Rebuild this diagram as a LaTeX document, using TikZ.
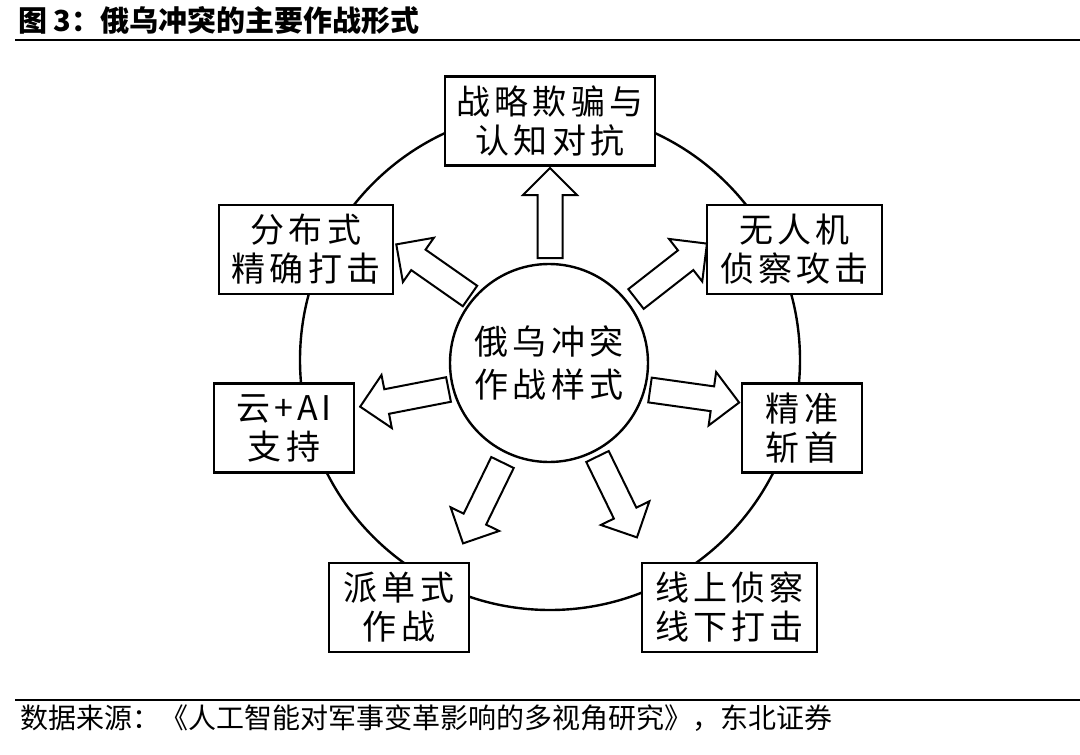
\documentclass[tikz,border=0pt]{standalone}
\usepackage{fontspec}
\setmainfont{Noto Sans CJK SC}
\newfontfamily\boxfont{Noto Sans CJK SC}[LetterSpace=12]
\begin{document}
\begin{tikzpicture}[x=1pt, y=-1pt,
    form/.style={rectangle, draw, line width=2.4pt, fill=white, minimum height=89pt, inner sep=0pt, align=center, font=\boxfont\fontsize{34}{39}\selectfont},
    hub/.style={circle, draw, line width=2.4pt, minimum size=198pt, inner sep=0pt, align=center, font=\boxfont\fontsize{34}{43}\selectfont},
    flow/.pic={\draw[line width=2pt, fill=white] (0,-12.5) -- (63,-12.5) -- (63,-27) -- (90,0) -- (63,27) -- (63,12.5) -- (0,12.5) -- cycle;},
    rule/.style={line width=2.4pt}
]
    \useasboundingbox (0,0) rectangle (1080,755);
    \node[anchor=west, inner sep=0pt, font=\bfseries\fontsize{29}{29}\selectfont] (title) at (18,20) {图\ 3：俄乌冲突的主要作战形式};
    \draw[rule] (15,40) -- (1080,40);

    \node[circle, draw, line width=2.4pt, minimum size=500pt] (ring) at (550,360) {};
    \node[hub] (hub) at (549,363) {俄乌冲突\\作战样式};

    \node[form, minimum width=210pt] (deceive) at (550,121) {战略欺骗与\\认知对抗};
    \node[form, minimum width=175pt] (drone) at (794.5,249.5) {无人机\\侦察攻击};
    \node[form, minimum width=120pt] (strike) at (802,428) {精准\\斩首};
    \node[form, minimum width=175pt] (online) at (729.5,607.5) {线上侦察\\线下打击};
    \node[form, minimum width=140pt] (order) at (399,607.5) {派单式\\作战};
    \node[form, minimum width=140pt] (cloud) at (284,428) {云+AI\\支持};
    \node[form, minimum width=174pt] (distrib) at (306,249.5) {分布式\\精确打击};

    \pic[rotate=90] (toDeceive) at (550,258) {flow};
    \pic[rotate=38] (toDrone) at (636,299) {flow};
    \pic[rotate=145] (toDistrib) at (470,296) {flow};
    \pic[rotate=191] (toCloud) at (448.5,389.5) {flow};
    \pic[rotate=-8] (toStrike) at (650,390) {flow};
    \pic[rotate=-116] (toOrder) at (502.5,462.5) {flow};
    \pic[rotate=-64] (toOnline) at (597.5,456.5) {flow};

    \draw[rule] (15,700) -- (1080,700);
    \node[anchor=west, inner sep=0pt, font=\fontsize{28}{28}\selectfont] (source) at (20,718) {数据来源：《人工智能对军事变革影响的多视角研究》，东北证券};
\end{tikzpicture}
\end{document}
